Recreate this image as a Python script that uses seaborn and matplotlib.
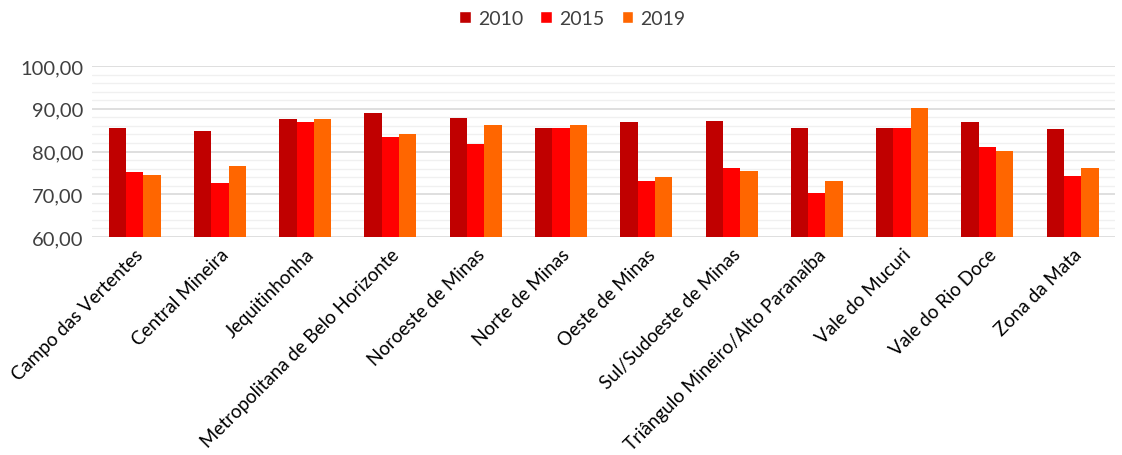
import matplotlib
matplotlib.use("Agg")
import matplotlib.pyplot as plt
from matplotlib.ticker import MultipleLocator, FuncFormatter
from matplotlib.patches import Patch
import pandas as pd
import seaborn as sns

regions = [
    "Campo das Vertentes", "Central Mineira", "Jequitinhonha",
    "Metropolitana de Belo Horizonte", "Noroeste de Minas", "Norte de Minas",
    "Oeste de Minas", "Sul/Sudoeste de Minas", "Triângulo Mineiro/Alto Paranaíba",
    "Vale do Mucuri", "Vale do Rio Doce", "Zona da Mata",
]
years = ["2010", "2015", "2019"]
v2010 = [85.6, 84.9, 87.6, 89.1, 87.9, 85.6, 86.9, 87.2, 85.6, 85.4, 87.0, 85.2]
v2015 = [75.1, 72.7, 86.9, 83.4, 81.7, 85.4, 73.0, 76.2, 70.3, 85.6, 81.0, 74.2]
v2019 = [74.4, 76.5, 87.6, 84.2, 86.2, 86.2, 74.0, 75.5, 73.2, 90.1, 80.2, 76.2]
colors = ["#C00000", "#FF0000", "#FF6600"]

df = pd.DataFrame({
    "regiao": regions * 3,
    "ano": [y for y in years for _ in regions],
    "valor": v2010 + v2015 + v2019,
})

sns.set_theme(style="white")
plt.rcParams["font.family"] = ["Lato", "DejaVu Sans"]

fig = plt.figure(figsize=(11.22, 4.56), dpi=100)
ax = fig.add_axes([0.082, 0.478, 0.912, 0.375])

sns.barplot(data=df, x="regiao", y="valor", hue="ano", order=regions,
            hue_order=years, palette=colors, width=0.61, saturation=1,
            linewidth=0, ax=ax, legend=False)

ax.set_ylim(60, 100)
ax.yaxis.set_major_locator(MultipleLocator(10))
ax.yaxis.set_minor_locator(MultipleLocator(2))
ax.yaxis.set_major_formatter(FuncFormatter(lambda v, p: f"{v:.2f}".replace(".", ",")))
ax.grid(axis="y", which="major", color="#D9D9D9", linewidth=1.2)
ax.grid(axis="y", which="minor", color="#F0F0F0", linewidth=1.0)
ax.set_axisbelow(True)
for s in ["top", "right", "left", "bottom"]:
    ax.spines[s].set_visible(False)
ax.set_xlim(-0.5, len(regions) - 0.5)
ax.set_xlabel("")
ax.set_ylabel("")
ax.tick_params(axis="y", which="both", length=0, labelsize=14.5, colors="#404040", pad=6)
ax.tick_params(axis="x", length=0, labelsize=13.5, colors="#000000", pad=6)
plt.setp(ax.get_xticklabels(), rotation=45, ha="right", rotation_mode="anchor")

handles = [Patch(facecolor=c, label=y) for c, y in zip(colors, years)]
fig.legend(handles=handles, loc="upper center", bbox_to_anchor=(0.51, 1.015),
           ncol=3, frameon=False, fontsize=14, handlelength=0.6, handleheight=0.6,
           handletextpad=0.35, columnspacing=0.9, labelcolor="#404040")

fig.savefig("out.png", dpi=100, facecolor="white")
